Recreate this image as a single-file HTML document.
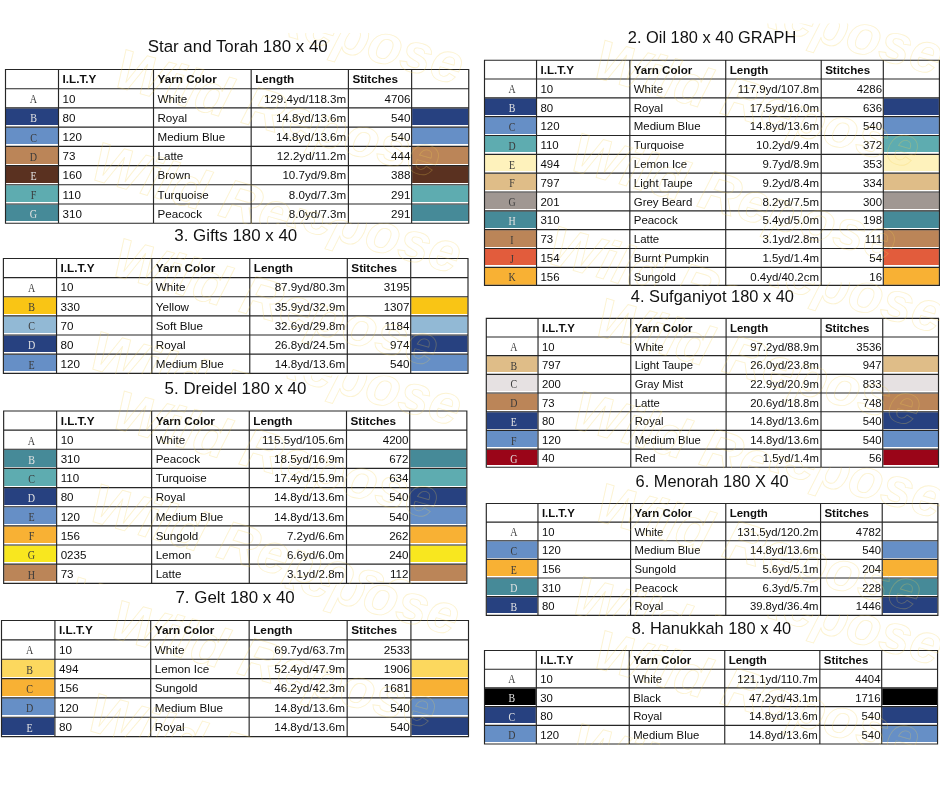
<!DOCTYPE html>
<html><head><meta charset="utf-8"><title>Yarn charts</title>
<style>
html,body{margin:0;padding:0;background:#fff;}
body{width:940px;height:788px;position:relative;overflow:hidden;font-family:"Liberation Sans",sans-serif;color:#111;}
#w{position:absolute;left:0;top:0;width:940px;height:788px;will-change:transform;}
svg{position:absolute;left:0;top:0;}
.t,.k,.h{position:absolute;white-space:nowrap;}
.t{line-height:14px;height:14px;color:#0d0d0d;}
.b{font-weight:bold;}
.r{text-align:right;}
.k{font-family:"Liberation Serif",serif;line-height:14px;height:14px;text-align:center;transform:scaleX(.84);}
.h{line-height:20px;height:20px;text-align:center;width:400px;color:#111;}
.L{font-size:11.6px}.S{font-size:11.5px}
.b.L{font-size:11.75px}.b.S{font-size:11.65px}
.HL{font-size:16.9px}.HS{font-size:16.4px}
.KL{font-size:12px}.KS{font-size:11.8px}
.q1{font-size:11.6px}.q1.b{font-size:11.72px}
.q2{font-size:11.45px}.q2.b{font-size:11.57px}
.q3{font-size:11.63px}.q3.b{font-size:11.75px}
.q4{font-size:11.32px}.q4.b{font-size:11.44px}
.q5{font-size:11.6px}.q5.b{font-size:11.72px}
.q6{font-size:11.31px}.q6.b{font-size:11.43px}
.q7{font-size:11.69px}.q7.b{font-size:11.81px}
.q8{font-size:11.34px}.q8.b{font-size:11.46px}
</style></head><body><div id="w">
<svg width="940" height="788" viewBox="0 0 940 788">
<rect x="6" y="108.42" width="52" height="16.58" fill="#274180"/><rect x="412.13" y="108.42" width="56.12" height="16.58" fill="#274180"/><rect x="6" y="127.64" width="52" height="16.36" fill="#668fc6"/><rect x="412.13" y="127.64" width="56.12" height="16.36" fill="#668fc6"/><rect x="6" y="146.85" width="52" height="17.15" fill="#bb8558"/><rect x="412.13" y="146.85" width="56.12" height="17.15" fill="#bb8558"/><rect x="6" y="166.06" width="52" height="16.94" fill="#5a3120"/><rect x="412.13" y="166.06" width="56.12" height="16.94" fill="#5a3120"/><rect x="6" y="185.27" width="52" height="16.73" fill="#5eacb0"/><rect x="412.13" y="185.27" width="56.12" height="16.73" fill="#5eacb0"/><rect x="6" y="204.49" width="52" height="16.51" fill="#468a98"/><rect x="412.13" y="204.49" width="56.12" height="16.51" fill="#468a98"/>
<path d="M4.92 69.5H469.32M4.92 88.71H469.32M4.92 107.92H469.32M4.92 127.14H469.32M4.92 146.35H469.32M4.92 165.56H469.32M4.92 184.77H469.32M4.92 203.99H469.32M4.92 223.2H469.32M5.5 69.5V223.2M58.5 69.5V223.2M153.51 69.5V223.2M251.16 69.5V223.2M348.4 69.5V223.2M411.63 69.5V223.2M468.75 69.5V223.2" stroke="#262626" stroke-width="1.15" fill="none"/>
<rect x="485" y="98.35" width="51.04" height="16.65" fill="#274180"/><rect x="883.81" y="98.35" width="55.09" height="16.65" fill="#274180"/><rect x="485" y="117.18" width="51.04" height="16.82" fill="#668fc6"/><rect x="883.81" y="117.18" width="55.09" height="16.82" fill="#668fc6"/><rect x="485" y="136.01" width="51.04" height="15.99" fill="#5eacb0"/><rect x="883.81" y="136.01" width="55.09" height="15.99" fill="#5eacb0"/><rect x="485" y="154.84" width="51.04" height="16.16" fill="#fef2bc"/><rect x="883.81" y="154.84" width="55.09" height="16.16" fill="#fef2bc"/><rect x="485" y="173.66" width="51.04" height="16.34" fill="#dfbd88"/><rect x="883.81" y="173.66" width="55.09" height="16.34" fill="#dfbd88"/><rect x="485" y="192.49" width="51.04" height="16.51" fill="#a09792"/><rect x="883.81" y="192.49" width="55.09" height="16.51" fill="#a09792"/><rect x="485" y="211.32" width="51.04" height="16.68" fill="#468a98"/><rect x="883.81" y="211.32" width="55.09" height="16.68" fill="#468a98"/><rect x="485" y="230.15" width="51.04" height="16.85" fill="#bb8558"/><rect x="883.81" y="230.15" width="55.09" height="16.85" fill="#bb8558"/><rect x="485" y="248.97" width="51.04" height="16.03" fill="#e25c3c"/><rect x="883.81" y="248.97" width="55.09" height="16.03" fill="#e25c3c"/><rect x="485" y="267.8" width="51.04" height="17" fill="#f8b134"/><rect x="883.81" y="267.8" width="55.09" height="17" fill="#f8b134"/>
<path d="M483.93 60.2H939.98M483.93 79.03H939.98M483.93 97.85H939.98M483.93 116.68H939.98M483.93 135.51H939.98M483.93 154.34H939.98M483.93 173.16H939.98M483.93 191.99H939.98M483.93 210.82H939.98M483.93 229.65H939.98M483.93 248.47H939.98M483.93 267.3H939.98M483.93 285.3H939.98M484.5 60.2V285.3M536.54 60.2V285.3M629.84 60.2V285.3M725.73 60.2V285.3M821.22 60.2V285.3M883.31 60.2V285.3M939.4 60.2V285.3" stroke="#262626" stroke-width="1.15" fill="none"/>
<rect x="3.9" y="297.27" width="52.15" height="16.73" fill="#f9c515"/><rect x="411.21" y="297.27" width="56.29" height="16.73" fill="#f9c515"/><rect x="3.9" y="316.4" width="52.15" height="16.6" fill="#92b9d5"/><rect x="411.21" y="316.4" width="56.29" height="16.6" fill="#92b9d5"/><rect x="3.9" y="335.53" width="52.15" height="16.47" fill="#274180"/><rect x="411.21" y="335.53" width="56.29" height="16.47" fill="#274180"/><rect x="3.9" y="354.67" width="52.15" height="16.33" fill="#668fc6"/><rect x="411.21" y="354.67" width="56.29" height="16.33" fill="#668fc6"/>
<path d="M2.83 258.5H468.57M2.83 277.63H468.57M2.83 296.77H468.57M2.83 315.9H468.57M2.83 335.03H468.57M2.83 354.17H468.57M2.83 373.3H468.57M3.4 258.5V373.3M56.55 258.5V373.3M151.84 258.5V373.3M249.78 258.5V373.3M347.3 258.5V373.3M410.71 258.5V373.3M468 258.5V373.3" stroke="#262626" stroke-width="1.15" fill="none"/>
<rect x="486.8" y="356.17" width="50.73" height="15.83" fill="#dfbd88"/><rect x="883.24" y="356.17" width="54.76" height="15.83" fill="#dfbd88"/><rect x="486.8" y="374.86" width="50.73" height="16.14" fill="#e6e1e2"/><rect x="883.24" y="374.86" width="54.76" height="16.14" fill="#e6e1e2"/><rect x="486.8" y="393.54" width="50.73" height="16.46" fill="#bb8558"/><rect x="883.24" y="393.54" width="54.76" height="16.46" fill="#bb8558"/><rect x="486.8" y="412.23" width="50.73" height="16.77" fill="#274180"/><rect x="883.24" y="412.23" width="54.76" height="16.77" fill="#274180"/><rect x="486.8" y="430.91" width="50.73" height="16.09" fill="#668fc6"/><rect x="883.24" y="430.91" width="54.76" height="16.09" fill="#668fc6"/><rect x="486.8" y="449.6" width="50.73" height="15.4" fill="#9a0518"/><rect x="883.24" y="449.6" width="54.76" height="15.4" fill="#9a0518"/>
<path d="M485.73 318.3H939.08M485.73 336.99H939.08M485.73 355.67H939.08M485.73 374.36H939.08M485.73 393.04H939.08M485.73 411.73H939.08M485.73 430.41H939.08M485.73 449.1H939.08M485.73 467.2H939.08M486.3 318.3V467.2M538.03 318.3V467.2M630.78 318.3V467.2M726.1 318.3V467.2M821.02 318.3V467.2M882.74 318.3V467.2M938.5 318.3V467.2" stroke="#262626" stroke-width="1.15" fill="none"/>
<rect x="4.15" y="449.79" width="51.99" height="17.21" fill="#468a98"/><rect x="410.24" y="449.79" width="56.11" height="17.21" fill="#468a98"/><rect x="4.15" y="468.93" width="51.99" height="17.07" fill="#5eacb0"/><rect x="410.24" y="468.93" width="56.11" height="17.07" fill="#5eacb0"/><rect x="4.15" y="488.08" width="51.99" height="16.92" fill="#274180"/><rect x="410.24" y="488.08" width="56.11" height="16.92" fill="#274180"/><rect x="4.15" y="507.22" width="51.99" height="16.78" fill="#668fc6"/><rect x="410.24" y="507.22" width="56.11" height="16.78" fill="#668fc6"/><rect x="4.15" y="526.37" width="51.99" height="16.63" fill="#f8b134"/><rect x="410.24" y="526.37" width="56.11" height="16.63" fill="#f8b134"/><rect x="4.15" y="545.51" width="51.99" height="16.49" fill="#f8e71f"/><rect x="410.24" y="545.51" width="56.11" height="16.49" fill="#f8e71f"/><rect x="4.15" y="564.66" width="51.99" height="16.34" fill="#bb8558"/><rect x="410.24" y="564.66" width="56.11" height="16.34" fill="#bb8558"/>
<path d="M3.08 411H467.43M3.08 430.14H467.43M3.08 449.29H467.43M3.08 468.43H467.43M3.08 487.58H467.43M3.08 506.72H467.43M3.08 525.87H467.43M3.08 545.01H467.43M3.08 564.16H467.43M3.08 583.3H467.43M3.65 411V583.3M56.64 411V583.3M151.64 411V583.3M249.28 411V583.3M346.51 411V583.3M409.74 411V583.3M466.85 411V583.3" stroke="#262626" stroke-width="1.15" fill="none"/>
<rect x="486.8" y="541.27" width="50.66" height="16.73" fill="#668fc6"/><rect x="882.72" y="541.27" width="54.68" height="16.73" fill="#668fc6"/><rect x="486.8" y="559.9" width="50.66" height="16.1" fill="#f8b134"/><rect x="882.72" y="559.9" width="54.68" height="16.1" fill="#f8b134"/><rect x="486.8" y="578.53" width="50.66" height="16.47" fill="#468a98"/><rect x="882.72" y="578.53" width="54.68" height="16.47" fill="#468a98"/><rect x="486.8" y="597.17" width="50.66" height="15.83" fill="#274180"/><rect x="882.72" y="597.17" width="54.68" height="15.83" fill="#274180"/>
<path d="M485.73 503.5H938.48M485.73 522.13H938.48M485.73 540.77H938.48M485.73 559.4H938.48M485.73 578.03H938.48M485.73 596.67H938.48M485.73 615.3H938.48M486.3 503.5V615.3M537.96 503.5V615.3M630.59 503.5V615.3M725.78 503.5V615.3M820.57 503.5V615.3M882.22 503.5V615.3M937.9 503.5V615.3" stroke="#262626" stroke-width="1.15" fill="none"/>
<rect x="2" y="659.7" width="52.42" height="17.3" fill="#fcd85e"/><rect x="411.42" y="659.7" width="56.58" height="17.3" fill="#fcd85e"/><rect x="2" y="679.05" width="52.42" height="16.95" fill="#f8b134"/><rect x="411.42" y="679.05" width="56.58" height="16.95" fill="#f8b134"/><rect x="2" y="698.4" width="52.42" height="16.6" fill="#668fc6"/><rect x="411.42" y="698.4" width="56.58" height="16.6" fill="#668fc6"/><rect x="2" y="717.75" width="52.42" height="17.25" fill="#274180"/><rect x="411.42" y="717.75" width="56.58" height="17.25" fill="#274180"/>
<path d="M0.93 620.5H469.07M0.93 639.85H469.07M0.93 659.2H469.07M0.93 678.55H469.07M0.93 697.9H469.07M0.93 717.25H469.07M0.93 736.6H469.07M1.5 620.5V736.6M54.92 620.5V736.6M150.71 620.5V736.6M249.15 620.5V736.6M347.17 620.5V736.6M410.92 620.5V736.6M468.5 620.5V736.6" stroke="#262626" stroke-width="1.15" fill="none"/>
<rect x="485" y="688.4" width="50.83" height="16.6" fill="#000000"/><rect x="882.19" y="688.4" width="54.86" height="16.6" fill="#000000"/><rect x="485" y="707.1" width="50.83" height="15.9" fill="#274180"/><rect x="882.19" y="707.1" width="54.86" height="15.9" fill="#274180"/><rect x="485" y="725.8" width="50.83" height="16.2" fill="#668fc6"/><rect x="882.19" y="725.8" width="54.86" height="16.2" fill="#668fc6"/>
<path d="M483.93 650.5H938.12M483.93 669.2H938.12M483.93 687.9H938.12M483.93 706.6H938.12M483.93 725.3H938.12M483.93 744H938.12M484.5 650.5V744M536.33 650.5V744M629.25 650.5V744M724.75 650.5V744M819.85 650.5V744M881.69 650.5V744M937.55 650.5V744" stroke="#262626" stroke-width="1.15" fill="none"/>
</svg>
<div class="h HL" style="left:37.7px;top:36.54px">Star and Torah 180 x 40</div>
<div class="t b q1" style="left:62.5px;top:72.36px">I.L.T.Y</div>
<div class="t b q1" style="left:157.51px;top:72.36px">Yarn Color</div>
<div class="t b q1" style="left:255.16px;top:72.36px">Length</div>
<div class="t b q1" style="left:352.4px;top:72.36px">Stitches</div>
<div class="k KL" style="left:6.8px;top:92.1px;width:53px;color:#3a3a3a">A</div>
<div class="t q1" style="left:62.5px;top:91.57px">10</div>
<div class="t q1" style="left:157.51px;top:91.57px">White</div>
<div class="t r q1" style="left:251.16px;top:91.57px;width:95.04px">129.4yd/118.3m</div>
<div class="t r q1" style="left:348.4px;top:91.57px;width:62.03px">4706</div>
<div class="k KL" style="left:6.8px;top:111.31px;width:53px;color:#e2e2e2">B</div>
<div class="t q1" style="left:62.5px;top:110.78px">80</div>
<div class="t q1" style="left:157.51px;top:110.78px">Royal</div>
<div class="t r q1" style="left:251.16px;top:110.78px;width:95.04px">14.8yd/13.6m</div>
<div class="t r q1" style="left:348.4px;top:110.78px;width:62.03px">540</div>
<div class="k KL" style="left:6.8px;top:130.52px;width:53px;color:#3a3a3a">C</div>
<div class="t q1" style="left:62.5px;top:129.99px">120</div>
<div class="t q1" style="left:157.51px;top:129.99px">Medium Blue</div>
<div class="t r q1" style="left:251.16px;top:129.99px;width:95.04px">14.8yd/13.6m</div>
<div class="t r q1" style="left:348.4px;top:129.99px;width:62.03px">540</div>
<div class="k KL" style="left:6.8px;top:149.74px;width:53px;color:#3a3a3a">D</div>
<div class="t q1" style="left:62.5px;top:149.21px">73</div>
<div class="t q1" style="left:157.51px;top:149.21px">Latte</div>
<div class="t r q1" style="left:251.16px;top:149.21px;width:95.04px">12.2yd/11.2m</div>
<div class="t r q1" style="left:348.4px;top:149.21px;width:62.03px">444</div>
<div class="k KL" style="left:6.8px;top:168.95px;width:53px;color:#e2e2e2">E</div>
<div class="t q1" style="left:62.5px;top:168.42px">160</div>
<div class="t q1" style="left:157.51px;top:168.42px">Brown</div>
<div class="t r q1" style="left:251.16px;top:168.42px;width:95.04px">10.7yd/9.8m</div>
<div class="t r q1" style="left:348.4px;top:168.42px;width:62.03px">388</div>
<div class="k KL" style="left:6.8px;top:188.16px;width:53px;color:#3a3a3a">F</div>
<div class="t q1" style="left:62.5px;top:187.63px">110</div>
<div class="t q1" style="left:157.51px;top:187.63px">Turquoise</div>
<div class="t r q1" style="left:251.16px;top:187.63px;width:95.04px">8.0yd/7.3m</div>
<div class="t r q1" style="left:348.4px;top:187.63px;width:62.03px">291</div>
<div class="k KL" style="left:6.8px;top:207.37px;width:53px;color:#e2e2e2">G</div>
<div class="t q1" style="left:62.5px;top:206.84px">310</div>
<div class="t q1" style="left:157.51px;top:206.84px">Peacock</div>
<div class="t r q1" style="left:251.16px;top:206.84px;width:95.04px">8.0yd/7.3m</div>
<div class="t r q1" style="left:348.4px;top:206.84px;width:62.03px">291</div>
<div class="h HS" style="left:512.1px;top:27.32px">2. Oil 180 x 40 GRAPH</div>
<div class="t b q2" style="left:540.47px;top:62.86px">I.L.T.Y</div>
<div class="t b q2" style="left:633.77px;top:62.86px">Yarn Color</div>
<div class="t b q2" style="left:729.66px;top:62.86px">Length</div>
<div class="t b q2" style="left:825.14px;top:62.86px">Stitches</div>
<div class="k KS" style="left:485.8px;top:82.22px;width:52.04px;color:#3a3a3a">A</div>
<div class="t q2" style="left:540.47px;top:81.69px">10</div>
<div class="t q2" style="left:633.77px;top:81.69px">White</div>
<div class="t r q2" style="left:725.73px;top:81.69px;width:93.28px">117.9yd/107.8m</div>
<div class="t r q2" style="left:821.22px;top:81.69px;width:60.89px">4286</div>
<div class="k KS" style="left:485.8px;top:101.05px;width:52.04px;color:#e2e2e2">B</div>
<div class="t q2" style="left:540.47px;top:100.52px">80</div>
<div class="t q2" style="left:633.77px;top:100.52px">Royal</div>
<div class="t r q2" style="left:725.73px;top:100.52px;width:93.28px">17.5yd/16.0m</div>
<div class="t r q2" style="left:821.22px;top:100.52px;width:60.89px">636</div>
<div class="k KS" style="left:485.8px;top:119.88px;width:52.04px;color:#3a3a3a">C</div>
<div class="t q2" style="left:540.47px;top:119.35px">120</div>
<div class="t q2" style="left:633.77px;top:119.35px">Medium Blue</div>
<div class="t r q2" style="left:725.73px;top:119.35px;width:93.28px">14.8yd/13.6m</div>
<div class="t r q2" style="left:821.22px;top:119.35px;width:60.89px">540</div>
<div class="k KS" style="left:485.8px;top:138.7px;width:52.04px;color:#3a3a3a">D</div>
<div class="t q2" style="left:540.47px;top:138.17px">110</div>
<div class="t q2" style="left:633.77px;top:138.17px">Turquoise</div>
<div class="t r q2" style="left:725.73px;top:138.17px;width:93.28px">10.2yd/9.4m</div>
<div class="t r q2" style="left:821.22px;top:138.17px;width:60.89px">372</div>
<div class="k KS" style="left:485.8px;top:157.53px;width:52.04px;color:#3a3a3a">E</div>
<div class="t q2" style="left:540.47px;top:157px">494</div>
<div class="t q2" style="left:633.77px;top:157px">Lemon Ice</div>
<div class="t r q2" style="left:725.73px;top:157px;width:93.28px">9.7yd/8.9m</div>
<div class="t r q2" style="left:821.22px;top:157px;width:60.89px">353</div>
<div class="k KS" style="left:485.8px;top:176.36px;width:52.04px;color:#3a3a3a">F</div>
<div class="t q2" style="left:540.47px;top:175.83px">797</div>
<div class="t q2" style="left:633.77px;top:175.83px">Light Taupe</div>
<div class="t r q2" style="left:725.73px;top:175.83px;width:93.28px">9.2yd/8.4m</div>
<div class="t r q2" style="left:821.22px;top:175.83px;width:60.89px">334</div>
<div class="k KS" style="left:485.8px;top:195.18px;width:52.04px;color:#3a3a3a">G</div>
<div class="t q2" style="left:540.47px;top:194.65px">201</div>
<div class="t q2" style="left:633.77px;top:194.65px">Grey Beard</div>
<div class="t r q2" style="left:725.73px;top:194.65px;width:93.28px">8.2yd/7.5m</div>
<div class="t r q2" style="left:821.22px;top:194.65px;width:60.89px">300</div>
<div class="k KS" style="left:485.8px;top:214.01px;width:52.04px;color:#e2e2e2">H</div>
<div class="t q2" style="left:540.47px;top:213.48px">310</div>
<div class="t q2" style="left:633.77px;top:213.48px">Peacock</div>
<div class="t r q2" style="left:725.73px;top:213.48px;width:93.28px">5.4yd/5.0m</div>
<div class="t r q2" style="left:821.22px;top:213.48px;width:60.89px">198</div>
<div class="k KS" style="left:485.8px;top:232.84px;width:52.04px;color:#3a3a3a">I</div>
<div class="t q2" style="left:540.47px;top:232.31px">73</div>
<div class="t q2" style="left:633.77px;top:232.31px">Latte</div>
<div class="t r q2" style="left:725.73px;top:232.31px;width:93.28px">3.1yd/2.8m</div>
<div class="t r q2" style="left:821.22px;top:232.31px;width:60.89px">111</div>
<div class="k KS" style="left:485.8px;top:251.67px;width:52.04px;color:#3a3a3a">J</div>
<div class="t q2" style="left:540.47px;top:251.14px">154</div>
<div class="t q2" style="left:633.77px;top:251.14px">Burnt Pumpkin</div>
<div class="t r q2" style="left:725.73px;top:251.14px;width:93.28px">1.5yd/1.4m</div>
<div class="t r q2" style="left:821.22px;top:251.14px;width:60.89px">54</div>
<div class="k KS" style="left:485.8px;top:270.08px;width:52.04px;color:#3a3a3a">K</div>
<div class="t q2" style="left:540.47px;top:269.55px">156</div>
<div class="t q2" style="left:633.77px;top:269.55px">Sungold</div>
<div class="t r q2" style="left:725.73px;top:269.55px;width:93.28px">0.4yd/40.2cm</div>
<div class="t r q2" style="left:821.22px;top:269.55px;width:60.89px">16</div>
<div class="h HL" style="left:35.75px;top:226.44px">3. Gifts 180 x 40</div>
<div class="t b q3" style="left:60.55px;top:261.32px">I.L.T.Y</div>
<div class="t b q3" style="left:155.84px;top:261.32px">Yarn Color</div>
<div class="t b q3" style="left:253.78px;top:261.32px">Length</div>
<div class="t b q3" style="left:351.3px;top:261.32px">Stitches</div>
<div class="k KL" style="left:4.7px;top:280.98px;width:53.15px;color:#3a3a3a">A</div>
<div class="t q3" style="left:60.55px;top:280.45px">10</div>
<div class="t q3" style="left:155.84px;top:280.45px">White</div>
<div class="t r q3" style="left:249.78px;top:280.45px;width:95.32px">87.9yd/80.3m</div>
<div class="t r q3" style="left:347.3px;top:280.45px;width:62.22px">3195</div>
<div class="k KL" style="left:4.7px;top:300.11px;width:53.15px;color:#3a3a3a">B</div>
<div class="t q3" style="left:60.55px;top:299.58px">330</div>
<div class="t q3" style="left:155.84px;top:299.58px">Yellow</div>
<div class="t r q3" style="left:249.78px;top:299.58px;width:95.32px">35.9yd/32.9m</div>
<div class="t r q3" style="left:347.3px;top:299.58px;width:62.22px">1307</div>
<div class="k KL" style="left:4.7px;top:319.25px;width:53.15px;color:#3a3a3a">C</div>
<div class="t q3" style="left:60.55px;top:318.72px">70</div>
<div class="t q3" style="left:155.84px;top:318.72px">Soft Blue</div>
<div class="t r q3" style="left:249.78px;top:318.72px;width:95.32px">32.6yd/29.8m</div>
<div class="t r q3" style="left:347.3px;top:318.72px;width:62.22px">1184</div>
<div class="k KL" style="left:4.7px;top:338.38px;width:53.15px;color:#e2e2e2">D</div>
<div class="t q3" style="left:60.55px;top:337.85px">80</div>
<div class="t q3" style="left:155.84px;top:337.85px">Royal</div>
<div class="t r q3" style="left:249.78px;top:337.85px;width:95.32px">26.8yd/24.5m</div>
<div class="t r q3" style="left:347.3px;top:337.85px;width:62.22px">974</div>
<div class="k KL" style="left:4.7px;top:357.51px;width:53.15px;color:#3a3a3a">E</div>
<div class="t q3" style="left:60.55px;top:356.98px">120</div>
<div class="t q3" style="left:155.84px;top:356.98px">Medium Blue</div>
<div class="t r q3" style="left:249.78px;top:356.98px;width:95.32px">14.8yd/13.6m</div>
<div class="t r q3" style="left:347.3px;top:356.98px;width:62.22px">540</div>
<div class="h HS" style="left:512.4px;top:286.12px">4. Sufganiyot 180 x 40</div>
<div class="t b q4" style="left:541.96px;top:320.89px">I.L.T.Y</div>
<div class="t b q4" style="left:634.71px;top:320.89px">Yarn Color</div>
<div class="t b q4" style="left:730.03px;top:320.89px">Length</div>
<div class="t b q4" style="left:824.95px;top:320.89px">Stitches</div>
<div class="k KS" style="left:487.6px;top:340.11px;width:51.73px;color:#3a3a3a">A</div>
<div class="t q4" style="left:541.96px;top:339.58px">10</div>
<div class="t q4" style="left:634.71px;top:339.58px">White</div>
<div class="t r q4" style="left:726.1px;top:339.58px;width:92.72px">97.2yd/88.9m</div>
<div class="t r q4" style="left:821.02px;top:339.58px;width:60.53px">3536</div>
<div class="k KS" style="left:487.6px;top:358.79px;width:51.73px;color:#3a3a3a">B</div>
<div class="t q4" style="left:541.96px;top:358.26px">797</div>
<div class="t q4" style="left:634.71px;top:358.26px">Light Taupe</div>
<div class="t r q4" style="left:726.1px;top:358.26px;width:92.72px">26.0yd/23.8m</div>
<div class="t r q4" style="left:821.02px;top:358.26px;width:60.53px">947</div>
<div class="k KS" style="left:487.6px;top:377.48px;width:51.73px;color:#3a3a3a">C</div>
<div class="t q4" style="left:541.96px;top:376.95px">200</div>
<div class="t q4" style="left:634.71px;top:376.95px">Gray Mist</div>
<div class="t r q4" style="left:726.1px;top:376.95px;width:92.72px">22.9yd/20.9m</div>
<div class="t r q4" style="left:821.02px;top:376.95px;width:60.53px">833</div>
<div class="k KS" style="left:487.6px;top:396.17px;width:51.73px;color:#3a3a3a">D</div>
<div class="t q4" style="left:541.96px;top:395.64px">73</div>
<div class="t q4" style="left:634.71px;top:395.64px">Latte</div>
<div class="t r q4" style="left:726.1px;top:395.64px;width:92.72px">20.6yd/18.8m</div>
<div class="t r q4" style="left:821.02px;top:395.64px;width:60.53px">748</div>
<div class="k KS" style="left:487.6px;top:414.85px;width:51.73px;color:#e2e2e2">E</div>
<div class="t q4" style="left:541.96px;top:414.32px">80</div>
<div class="t q4" style="left:634.71px;top:414.32px">Royal</div>
<div class="t r q4" style="left:726.1px;top:414.32px;width:92.72px">14.8yd/13.6m</div>
<div class="t r q4" style="left:821.02px;top:414.32px;width:60.53px">540</div>
<div class="k KS" style="left:487.6px;top:433.54px;width:51.73px;color:#3a3a3a">F</div>
<div class="t q4" style="left:541.96px;top:433.01px">120</div>
<div class="t q4" style="left:634.71px;top:433.01px">Medium Blue</div>
<div class="t r q4" style="left:726.1px;top:433.01px;width:92.72px">14.8yd/13.6m</div>
<div class="t r q4" style="left:821.02px;top:433.01px;width:60.53px">540</div>
<div class="k KS" style="left:487.6px;top:451.93px;width:51.73px;color:#e2e2e2">G</div>
<div class="t q4" style="left:541.96px;top:451.4px">40</div>
<div class="t q4" style="left:634.71px;top:451.4px">Red</div>
<div class="t r q4" style="left:726.1px;top:451.4px;width:92.72px">1.5yd/1.4m</div>
<div class="t r q4" style="left:821.02px;top:451.4px;width:60.53px">56</div>
<div class="h HL" style="left:35.5px;top:379.04px">5. Dreidel 180 x 40</div>
<div class="t b q5" style="left:60.64px;top:413.82px">I.L.T.Y</div>
<div class="t b q5" style="left:155.64px;top:413.82px">Yarn Color</div>
<div class="t b q5" style="left:253.28px;top:413.82px">Length</div>
<div class="t b q5" style="left:350.51px;top:413.82px">Stitches</div>
<div class="k KL" style="left:4.95px;top:433.5px;width:52.99px;color:#3a3a3a">A</div>
<div class="t q5" style="left:60.64px;top:432.97px">10</div>
<div class="t q5" style="left:155.64px;top:432.97px">White</div>
<div class="t r q5" style="left:249.28px;top:432.97px;width:95.03px">115.5yd/105.6m</div>
<div class="t r q5" style="left:346.51px;top:432.97px;width:62.03px">4200</div>
<div class="k KL" style="left:4.95px;top:452.64px;width:52.99px;color:#e2e2e2">B</div>
<div class="t q5" style="left:60.64px;top:452.11px">310</div>
<div class="t q5" style="left:155.64px;top:452.11px">Peacock</div>
<div class="t r q5" style="left:249.28px;top:452.11px;width:95.03px">18.5yd/16.9m</div>
<div class="t r q5" style="left:346.51px;top:452.11px;width:62.03px">672</div>
<div class="k KL" style="left:4.95px;top:471.79px;width:52.99px;color:#3a3a3a">C</div>
<div class="t q5" style="left:60.64px;top:471.26px">110</div>
<div class="t q5" style="left:155.64px;top:471.26px">Turquoise</div>
<div class="t r q5" style="left:249.28px;top:471.26px;width:95.03px">17.4yd/15.9m</div>
<div class="t r q5" style="left:346.51px;top:471.26px;width:62.03px">634</div>
<div class="k KL" style="left:4.95px;top:490.93px;width:52.99px;color:#e2e2e2">D</div>
<div class="t q5" style="left:60.64px;top:490.4px">80</div>
<div class="t q5" style="left:155.64px;top:490.4px">Royal</div>
<div class="t r q5" style="left:249.28px;top:490.4px;width:95.03px">14.8yd/13.6m</div>
<div class="t r q5" style="left:346.51px;top:490.4px;width:62.03px">540</div>
<div class="k KL" style="left:4.95px;top:510.07px;width:52.99px;color:#3a3a3a">E</div>
<div class="t q5" style="left:60.64px;top:509.54px">120</div>
<div class="t q5" style="left:155.64px;top:509.54px">Medium Blue</div>
<div class="t r q5" style="left:249.28px;top:509.54px;width:95.03px">14.8yd/13.6m</div>
<div class="t r q5" style="left:346.51px;top:509.54px;width:62.03px">540</div>
<div class="k KL" style="left:4.95px;top:529.22px;width:52.99px;color:#3a3a3a">F</div>
<div class="t q5" style="left:60.64px;top:528.69px">156</div>
<div class="t q5" style="left:155.64px;top:528.69px">Sungold</div>
<div class="t r q5" style="left:249.28px;top:528.69px;width:95.03px">7.2yd/6.6m</div>
<div class="t r q5" style="left:346.51px;top:528.69px;width:62.03px">262</div>
<div class="k KL" style="left:4.95px;top:548.36px;width:52.99px;color:#3a3a3a">G</div>
<div class="t q5" style="left:60.64px;top:547.83px">0235</div>
<div class="t q5" style="left:155.64px;top:547.83px">Lemon</div>
<div class="t r q5" style="left:249.28px;top:547.83px;width:95.03px">6.6yd/6.0m</div>
<div class="t r q5" style="left:346.51px;top:547.83px;width:62.03px">240</div>
<div class="k KL" style="left:4.95px;top:567.51px;width:52.99px;color:#3a3a3a">H</div>
<div class="t q5" style="left:60.64px;top:566.98px">73</div>
<div class="t q5" style="left:155.64px;top:566.98px">Latte</div>
<div class="t r q5" style="left:249.28px;top:566.98px;width:95.03px">3.1yd/2.8m</div>
<div class="t r q5" style="left:346.51px;top:566.98px;width:62.03px">112</div>
<div class="h HS" style="left:512.1px;top:471.02px">6. Menorah 180 X 40</div>
<div class="t b q6" style="left:541.89px;top:506.07px">I.L.T.Y</div>
<div class="t b q6" style="left:634.51px;top:506.07px">Yarn Color</div>
<div class="t b q6" style="left:729.71px;top:506.07px">Length</div>
<div class="t b q6" style="left:824.5px;top:506.07px">Stitches</div>
<div class="k KS" style="left:487.6px;top:525.23px;width:51.66px;color:#3a3a3a">A</div>
<div class="t q6" style="left:541.89px;top:524.7px">10</div>
<div class="t q6" style="left:634.51px;top:524.7px">White</div>
<div class="t r q6" style="left:725.78px;top:524.7px;width:92.59px">131.5yd/120.2m</div>
<div class="t r q6" style="left:820.57px;top:524.7px;width:60.44px">4782</div>
<div class="k KS" style="left:487.6px;top:543.86px;width:51.66px;color:#3a3a3a">C</div>
<div class="t q6" style="left:541.89px;top:543.33px">120</div>
<div class="t q6" style="left:634.51px;top:543.33px">Medium Blue</div>
<div class="t r q6" style="left:725.78px;top:543.33px;width:92.59px">14.8yd/13.6m</div>
<div class="t r q6" style="left:820.57px;top:543.33px;width:60.44px">540</div>
<div class="k KS" style="left:487.6px;top:562.5px;width:51.66px;color:#3a3a3a">E</div>
<div class="t q6" style="left:541.89px;top:561.97px">156</div>
<div class="t q6" style="left:634.51px;top:561.97px">Sungold</div>
<div class="t r q6" style="left:725.78px;top:561.97px;width:92.59px">5.6yd/5.1m</div>
<div class="t r q6" style="left:820.57px;top:561.97px;width:60.44px">204</div>
<div class="k KS" style="left:487.6px;top:581.13px;width:51.66px;color:#e2e2e2">D</div>
<div class="t q6" style="left:541.89px;top:580.6px">310</div>
<div class="t q6" style="left:634.51px;top:580.6px">Peacock</div>
<div class="t r q6" style="left:725.78px;top:580.6px;width:92.59px">6.3yd/5.7m</div>
<div class="t r q6" style="left:820.57px;top:580.6px;width:60.44px">228</div>
<div class="k KS" style="left:487.6px;top:599.76px;width:51.66px;color:#e2e2e2">B</div>
<div class="t q6" style="left:541.89px;top:599.23px">80</div>
<div class="t q6" style="left:634.51px;top:599.23px">Royal</div>
<div class="t r q6" style="left:725.78px;top:599.23px;width:92.59px">39.8yd/36.4m</div>
<div class="t r q6" style="left:820.57px;top:599.23px;width:60.44px">1446</div>
<div class="h HL" style="left:35.1px;top:588.44px">7. Gelt 180 x 40</div>
<div class="t b q7" style="left:58.92px;top:623.42px">I.L.T.Y</div>
<div class="t b q7" style="left:154.71px;top:623.42px">Yarn Color</div>
<div class="t b q7" style="left:253.15px;top:623.42px">Length</div>
<div class="t b q7" style="left:351.17px;top:623.42px">Stitches</div>
<div class="k KL" style="left:2.8px;top:643.31px;width:53.42px;color:#3a3a3a">A</div>
<div class="t q7" style="left:58.92px;top:642.78px">10</div>
<div class="t q7" style="left:154.71px;top:642.78px">White</div>
<div class="t r q7" style="left:249.15px;top:642.78px;width:95.82px">69.7yd/63.7m</div>
<div class="t r q7" style="left:347.17px;top:642.78px;width:62.55px">2533</div>
<div class="k KL" style="left:2.8px;top:662.65px;width:53.42px;color:#3a3a3a">B</div>
<div class="t q7" style="left:58.92px;top:662.12px">494</div>
<div class="t q7" style="left:154.71px;top:662.12px">Lemon Ice</div>
<div class="t r q7" style="left:249.15px;top:662.12px;width:95.82px">52.4yd/47.9m</div>
<div class="t r q7" style="left:347.17px;top:662.12px;width:62.55px">1906</div>
<div class="k KL" style="left:2.8px;top:682px;width:53.42px;color:#3a3a3a">C</div>
<div class="t q7" style="left:58.92px;top:681.47px">156</div>
<div class="t q7" style="left:154.71px;top:681.47px">Sungold</div>
<div class="t r q7" style="left:249.15px;top:681.47px;width:95.82px">46.2yd/42.3m</div>
<div class="t r q7" style="left:347.17px;top:681.47px;width:62.55px">1681</div>
<div class="k KL" style="left:2.8px;top:701.36px;width:53.42px;color:#3a3a3a">D</div>
<div class="t q7" style="left:58.92px;top:700.83px">120</div>
<div class="t q7" style="left:154.71px;top:700.83px">Medium Blue</div>
<div class="t r q7" style="left:249.15px;top:700.83px;width:95.82px">14.8yd/13.6m</div>
<div class="t r q7" style="left:347.17px;top:700.83px;width:62.55px">540</div>
<div class="k KL" style="left:2.8px;top:720.7px;width:53.42px;color:#e2e2e2">E</div>
<div class="t q7" style="left:58.92px;top:720.17px">80</div>
<div class="t q7" style="left:154.71px;top:720.17px">Royal</div>
<div class="t r q7" style="left:249.15px;top:720.17px;width:95.82px">14.8yd/13.6m</div>
<div class="t r q7" style="left:347.17px;top:720.17px;width:62.55px">540</div>
<div class="h HS" style="left:511.4px;top:618.02px">8. Hanukkah 180 x 40</div>
<div class="t b q8" style="left:540.26px;top:653.1px">I.L.T.Y</div>
<div class="t b q8" style="left:633.18px;top:653.1px">Yarn Color</div>
<div class="t b q8" style="left:728.68px;top:653.1px">Length</div>
<div class="t b q8" style="left:823.78px;top:653.1px">Stitches</div>
<div class="k KS" style="left:485.8px;top:672.33px;width:51.83px;color:#3a3a3a">A</div>
<div class="t q8" style="left:540.26px;top:671.8px">10</div>
<div class="t q8" style="left:633.18px;top:671.8px">White</div>
<div class="t r q8" style="left:724.75px;top:671.8px;width:92.9px">121.1yd/110.7m</div>
<div class="t r q8" style="left:819.85px;top:671.8px;width:60.64px">4404</div>
<div class="k KS" style="left:485.8px;top:691.03px;width:51.83px;color:#e2e2e2">B</div>
<div class="t q8" style="left:540.26px;top:690.5px">30</div>
<div class="t q8" style="left:633.18px;top:690.5px">Black</div>
<div class="t r q8" style="left:724.75px;top:690.5px;width:92.9px">47.2yd/43.1m</div>
<div class="t r q8" style="left:819.85px;top:690.5px;width:60.64px">1716</div>
<div class="k KS" style="left:485.8px;top:709.73px;width:51.83px;color:#e2e2e2">C</div>
<div class="t q8" style="left:540.26px;top:709.2px">80</div>
<div class="t q8" style="left:633.18px;top:709.2px">Royal</div>
<div class="t r q8" style="left:724.75px;top:709.2px;width:92.9px">14.8yd/13.6m</div>
<div class="t r q8" style="left:819.85px;top:709.2px;width:60.64px">540</div>
<div class="k KS" style="left:485.8px;top:728.43px;width:51.83px;color:#3a3a3a">D</div>
<div class="t q8" style="left:540.26px;top:727.9px">120</div>
<div class="t q8" style="left:633.18px;top:727.9px">Medium Blue</div>
<div class="t r q8" style="left:724.75px;top:727.9px;width:92.9px">14.8yd/13.6m</div>
<div class="t r q8" style="left:819.85px;top:727.9px;width:60.64px">540</div>
<svg width="940" height="788" viewBox="0 0 940 788" style="pointer-events:none">
<defs>
<clipPath id="c0"><rect x="0" y="32.9" width="470" height="191.3"/></clipPath>
<clipPath id="c1"><rect x="470" y="23.5" width="470" height="262.8"/></clipPath>
<clipPath id="c2"><rect x="0" y="222.8" width="470" height="151.5"/></clipPath>
<clipPath id="c3"><rect x="470" y="282.3" width="470" height="185.9"/></clipPath>
<clipPath id="c4"><rect x="0" y="375.4" width="470" height="208.9"/></clipPath>
<clipPath id="c5"><rect x="470" y="467.2" width="470" height="149.1"/></clipPath>
<clipPath id="c6"><rect x="0" y="584.8" width="470" height="152.8"/></clipPath>
<clipPath id="c7"><rect x="470" y="614.2" width="470" height="130.8"/></clipPath>
</defs>
<g font-family="Liberation Sans, sans-serif" font-weight="bold" font-style="italic" font-size="56" fill="none" stroke="#f3d251" stroke-opacity="0.26" stroke-width="0.9">
<g clip-path="url(#c0)"><text transform="translate(157.57 -100.51) rotate(16)">Wild Repose</text><text transform="translate(134.57 -7.51) rotate(16)">Wild Repose</text><text transform="translate(111.57 85.49) rotate(16)">Wild Repose</text><text transform="translate(88.57 178.49) rotate(16)">Wild Repose</text></g>
<g clip-path="url(#c1)"><text transform="translate(636.57 -109.81) rotate(16)">Wild Repose</text><text transform="translate(613.57 -16.81) rotate(16)">Wild Repose</text><text transform="translate(590.57 76.19) rotate(16)">Wild Repose</text><text transform="translate(567.57 169.19) rotate(16)">Wild Repose</text><text transform="translate(544.57 262.19) rotate(16)">Wild Repose</text></g>
<g clip-path="url(#c2)"><text transform="translate(155.47 88.49) rotate(16)">Wild Repose</text><text transform="translate(132.47 181.49) rotate(16)">Wild Repose</text><text transform="translate(109.47 274.49) rotate(16)">Wild Repose</text><text transform="translate(86.47 367.49) rotate(16)">Wild Repose</text></g>
<g clip-path="url(#c3)"><text transform="translate(638.37 148.29) rotate(16)">Wild Repose</text><text transform="translate(615.37 241.29) rotate(16)">Wild Repose</text><text transform="translate(592.37 334.29) rotate(16)">Wild Repose</text><text transform="translate(569.37 427.29) rotate(16)">Wild Repose</text></g>
<g clip-path="url(#c4)"><text transform="translate(155.72 240.99) rotate(16)">Wild Repose</text><text transform="translate(132.72 333.99) rotate(16)">Wild Repose</text><text transform="translate(109.72 426.99) rotate(16)">Wild Repose</text><text transform="translate(86.72 519.99) rotate(16)">Wild Repose</text><text transform="translate(63.72 612.99) rotate(16)">Wild Repose</text></g>
<g clip-path="url(#c5)"><text transform="translate(638.37 333.49) rotate(16)">Wild Repose</text><text transform="translate(615.37 426.49) rotate(16)">Wild Repose</text><text transform="translate(592.37 519.49) rotate(16)">Wild Repose</text><text transform="translate(569.37 612.49) rotate(16)">Wild Repose</text></g>
<g clip-path="url(#c6)"><text transform="translate(153.57 450.49) rotate(16)">Wild Repose</text><text transform="translate(130.57 543.49) rotate(16)">Wild Repose</text><text transform="translate(107.57 636.49) rotate(16)">Wild Repose</text><text transform="translate(84.57 729.49) rotate(16)">Wild Repose</text></g>
<g clip-path="url(#c7)"><text transform="translate(636.57 480.49) rotate(16)">Wild Repose</text><text transform="translate(613.57 573.49) rotate(16)">Wild Repose</text><text transform="translate(590.57 666.49) rotate(16)">Wild Repose</text><text transform="translate(567.57 759.49) rotate(16)">Wild Repose</text></g>
</g></svg>
</div></body></html>
